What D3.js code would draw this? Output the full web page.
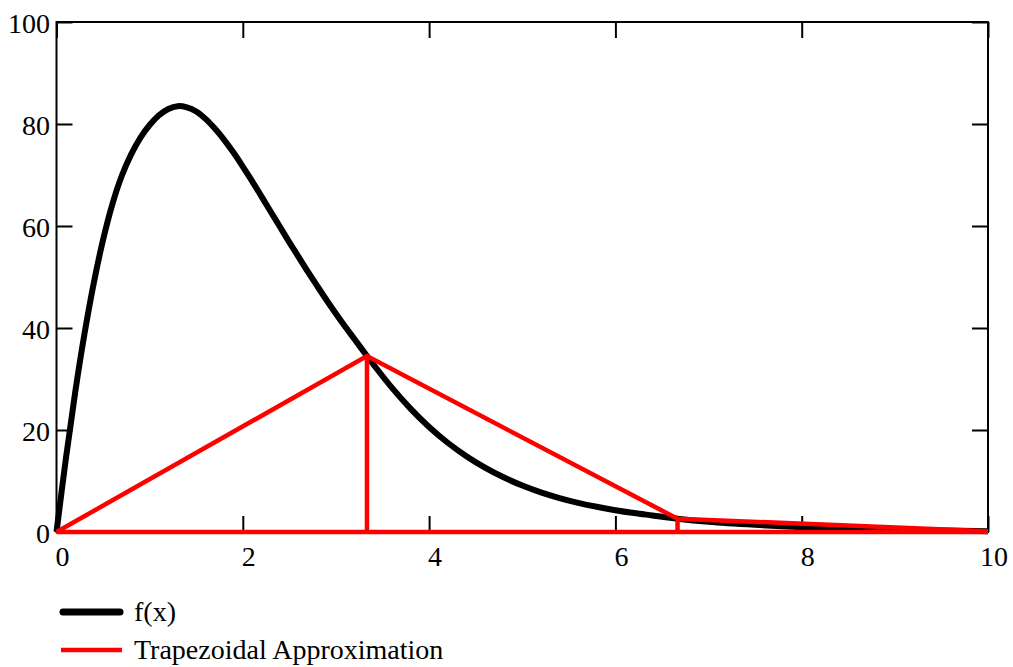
<!DOCTYPE html>
<html>
<head>
<meta charset="utf-8">
<script src="https://cdn.jsdelivr.net/npm/d3@7"></script>
<style>
  html, body { margin: 0; padding: 0; background: #fff; }
  svg { display: block; }
  text { font-family: "Liberation Serif", "Times New Roman", serif; }
</style>
</head>
<body>
<svg id="chart" width="1013" height="667"></svg>
<script>
// f(x) curve
const curveX = [0, 0.1, 0.2, 0.3, 0.4, 0.5, 0.6, 0.7, 0.8, 0.9, 1.0, 1.1, 1.2, 1.3, 1.4, 1.5, 1.6, 1.7, 1.8, 1.9, 2.0, 2.1, 2.2, 2.3, 2.4, 2.5, 2.6, 2.7, 2.8, 2.9, 3.0, 3.1, 3.2, 3.333, 3.4, 3.6, 3.8, 4.0, 4.2, 4.4, 4.6, 4.8, 5.0, 5.2, 5.4, 5.6, 5.8, 6.0, 6.2, 6.4, 6.667, 7.0, 7.5, 8.0, 8.5, 9.0, 9.5, 10.0];
const curveY = [0, 14.3, 27.3, 38.8, 48.8, 57.3, 64.3, 69.8, 74.0, 77.3, 79.8, 81.7, 82.95, 83.5, 83.25, 82.45, 81.0, 79.1, 76.9, 74.4, 71.65, 68.8, 65.8, 62.8, 59.8, 56.8, 53.9, 51.0, 48.2, 45.45, 42.8, 40.25, 37.8, 34.5, 32.9, 28.3, 24.2, 20.6, 17.5, 14.86, 12.62, 10.72, 9.12, 7.78, 6.66, 5.72, 4.94, 4.28, 3.72, 3.24, 2.6, 2.0, 1.4, 0.95, 0.65, 0.42, 0.27, 0.17];
// trapezoid nodes
const trapX = [0, 3.333, 6.667, 10];
const trapY = [0, 34.5, 2.6, 0.17];
// ticks
const xTicks = [0, 2, 4, 6, 8, 10];
const yTicks = [0, 20, 40, 60, 80, 100];
const legendLabels = ["f(x)", "Trapezoidal Approximation"];

const svg = d3.select("#chart");
const L = 56.5, R = 988, T = 22, B = 532;
const x = d3.scaleLinear().domain([0, 10]).range([L, R]);
const y = d3.scaleLinear().domain([0, 100]).range([B, T]);
const TL = 16;

// frame
const g = svg.append("g");
g.append("rect").attr("x", L).attr("y", T).attr("width", R - L).attr("height", B - T)
  .attr("fill", "none").attr("stroke", "#000").attr("stroke-width", 2);

// axes with inward ticks
const axL = d3.axisLeft(y).tickValues(yTicks).tickSize(-TL).tickFormat("");
const axR = d3.axisRight(y).tickValues(yTicks).tickSize(-TL).tickFormat("");
const axB = d3.axisBottom(x).tickValues(xTicks).tickSize(-TL).tickFormat("");
const axT = d3.axisTop(x).tickValues(xTicks).tickSize(-TL).tickFormat("");
[[axL, `translate(${L},0)`], [axR, `translate(${R},0)`], [axB, `translate(0,${B})`], [axT, `translate(0,${T})`]]
  .forEach(([ax, tr]) => {
    const a = g.append("g").attr("transform", tr).call(ax);
    a.select(".domain").remove();
    a.selectAll(".tick line").attr("stroke", "#000").attr("stroke-width", 2);
  });

// tick labels
g.selectAll("text.yl").data(yTicks).enter().append("text")
  .attr("x", 50).attr("y", d => y(d) + 11).attr("text-anchor", "end")
  .attr("font-size", 28).attr("fill", "#000").text(d => d);
g.selectAll("text.xl").data(xTicks).enter().append("text")
  .attr("x", d => x(d) + 6).attr("y", 566).attr("text-anchor", "middle")
  .attr("font-size", 28).attr("fill", "#000").text(d => d);

// curve
const pts = curveX.map((v, i) => [v, curveY[i]]);
const line = d3.line().x(d => x(d[0])).y(d => y(d[1])).curve(d3.curveCatmullRom.alpha(0.5));
svg.append("path").datum(pts).attr("d", line).attr("fill", "none")
  .attr("stroke", "#000").attr("stroke-width", 6).attr("stroke-linejoin", "round");

// trapezoid
const red = "#ff0000";
const tp = trapX.map((v, i) => [v, trapY[i]]);
const tg = svg.append("g").attr("stroke", red).attr("stroke-width", 4.5).attr("fill", "none");
tg.append("path").datum(tp).attr("d", d3.line().x(d => x(d[0])).y(d => y(d[1])));
tg.append("line").attr("x1", x(0)).attr("x2", x(10)).attr("y1", y(0)).attr("y2", y(0));
tp.slice(1, -1).forEach(d => {
  tg.append("line").attr("x1", x(d[0])).attr("x2", x(d[0])).attr("y1", y(0)).attr("y2", y(d[1]));
});

// legend
const leg = svg.append("g");
const legY = [612, 650];
leg.append("line").attr("x1", 63).attr("x2", 120).attr("y1", legY[0]).attr("y2", legY[0])
  .attr("stroke", "#000").attr("stroke-width", 7).attr("stroke-linecap", "round");
leg.append("line").attr("x1", 61).attr("x2", 122).attr("y1", legY[1]).attr("y2", legY[1])
  .attr("stroke", red).attr("stroke-width", 4.5);
leg.selectAll("text").data(legendLabels).enter().append("text")
  .attr("x", 134).attr("y", (d, i) => legY[i] + 9).attr("font-size", 28).attr("fill", "#000")
  .text(d => d);
</script>
</body>
</html>
